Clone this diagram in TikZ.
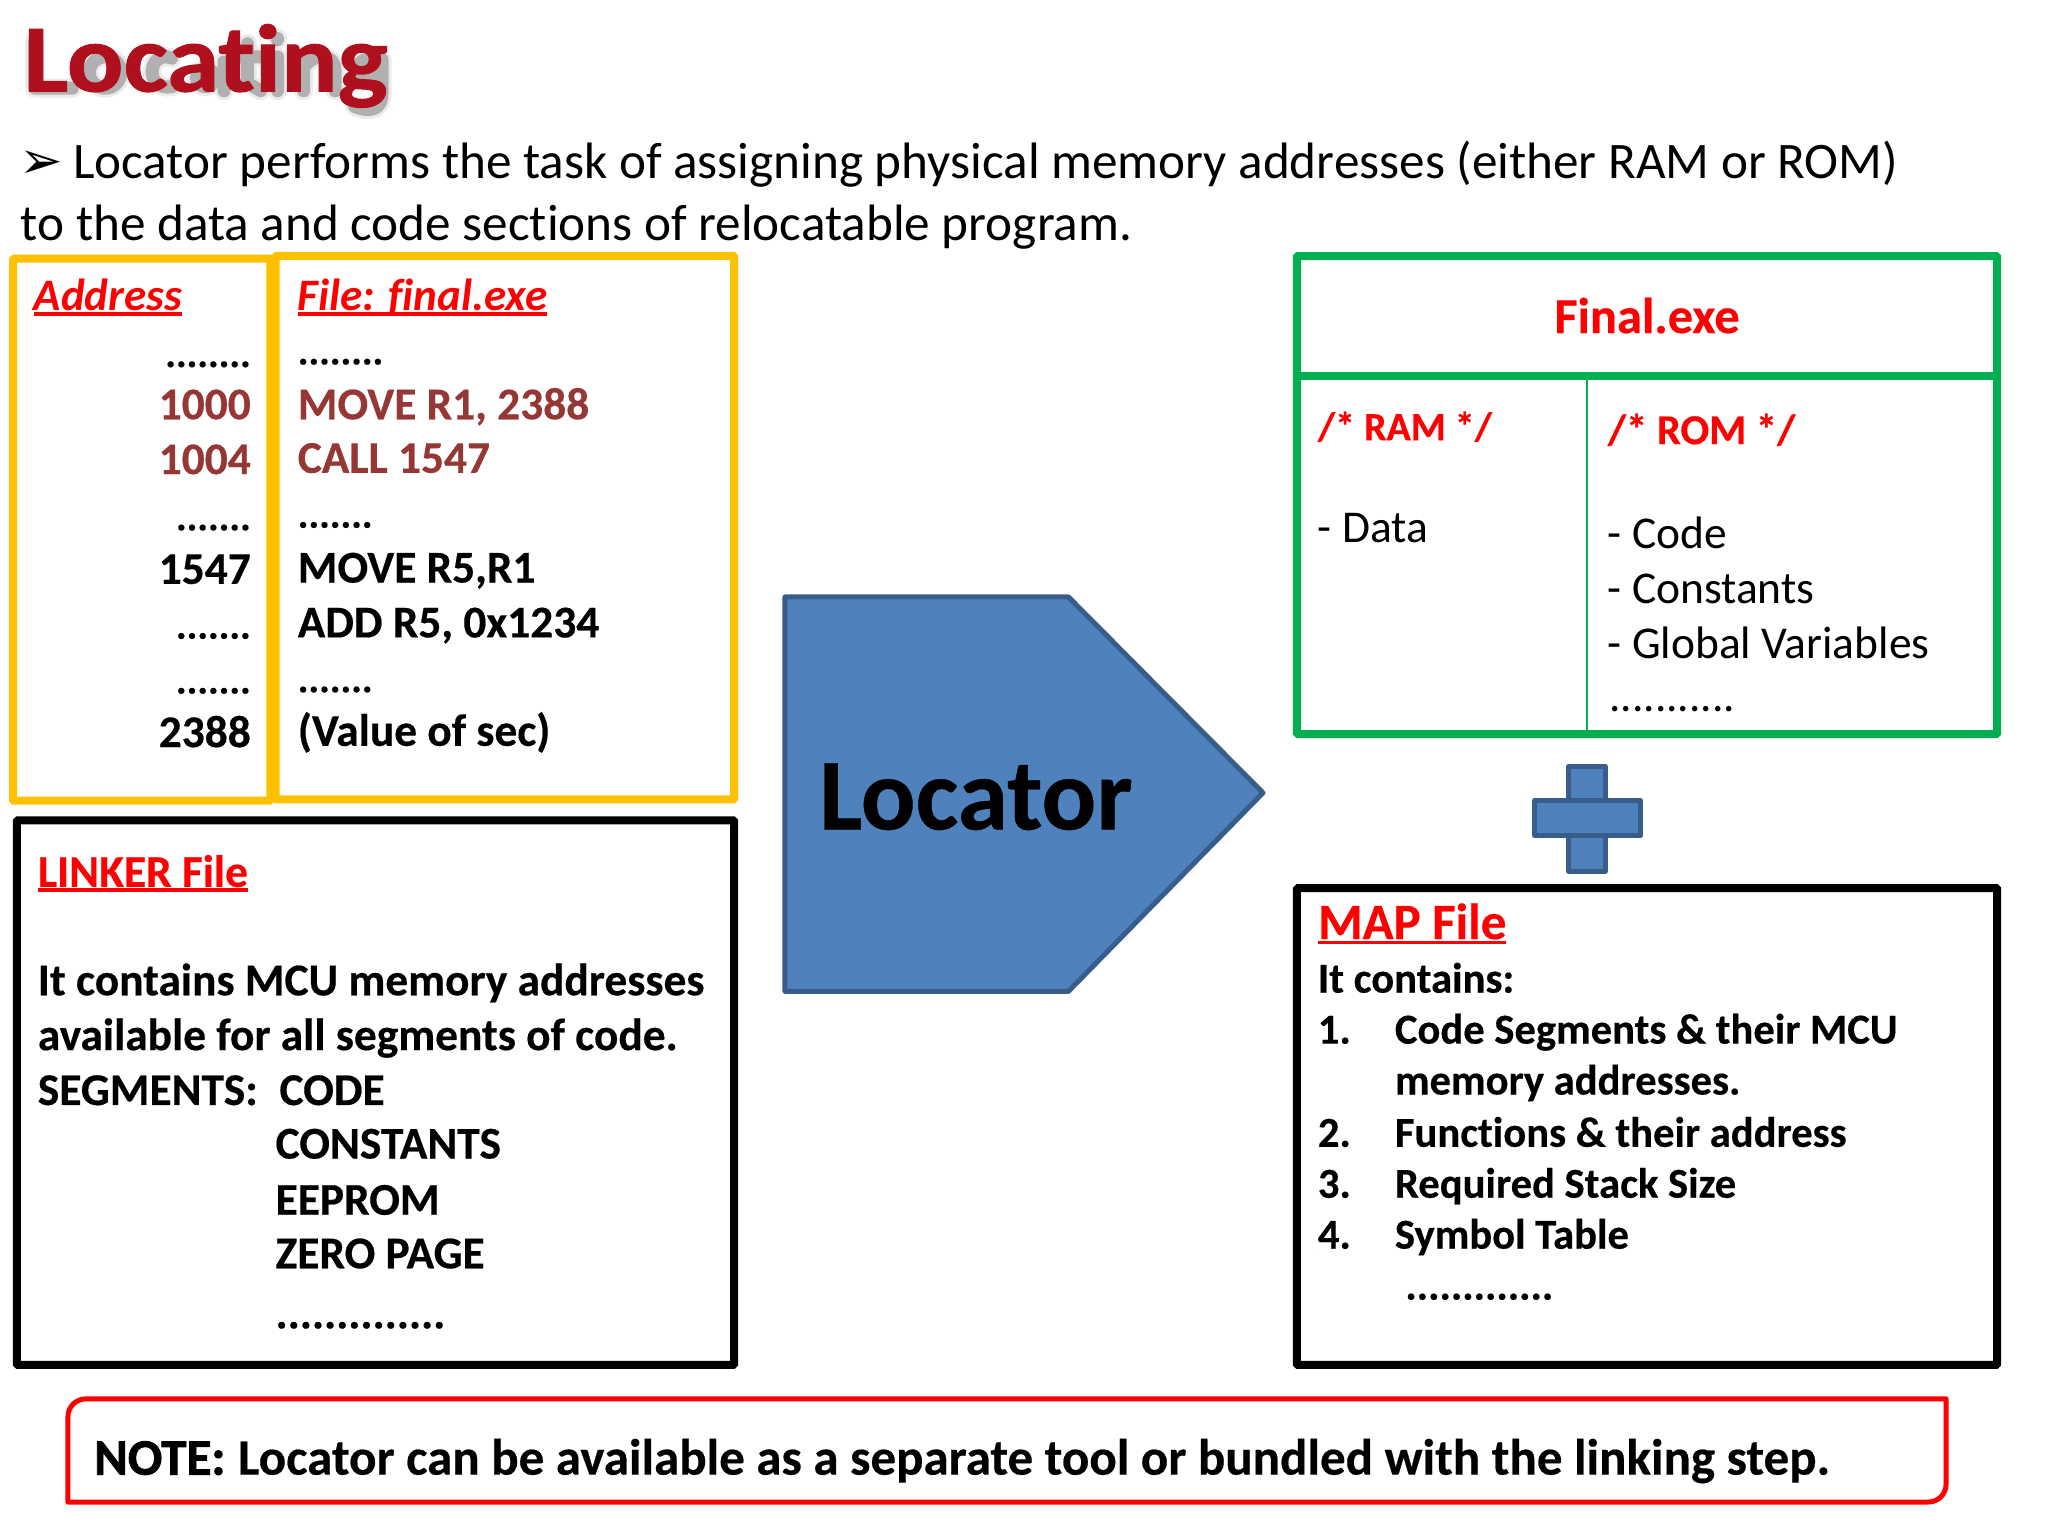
\documentclass[tikz,border=0pt]{standalone}
\usepackage{fontspec}
\setmainfont{Carlito}[Ligatures=NoCommon,BoldFeatures={FakeBold=0.4}]
\newfontfamily\symfont{DejaVu Sans}
\newfontfamily\titlefont{Carlito}[Ligatures=NoCommon,FakeStretch=1.1,BoldFeatures={FakeBold=1}]
\newfontfamily\notefont{Carlito}[BoldFeatures={FakeBold=1.6}]
\definecolor{ylw}{HTML}{FFC000}
\definecolor{grn}{HTML}{00B050}
\definecolor{brn}{HTML}{953735}
\definecolor{blu}{HTML}{4F81BD}
\definecolor{bluedge}{HTML}{385D8A}
\definecolor{ttl}{HTML}{B0101E}
\newcommand{\fs}[1]{\fontsize{#1}{#1}\selectfont}
\newcommand{\ul}[1]{\leavevmode\setbox0\hbox{#1}\rlap{\rule[-5pt]{\wd0}{3.5pt}}\box0}
\tikzset{
  txt/.style={anchor=base west,inner sep=0pt,outer sep=0pt,font=\fs{51.2}},
  bt/.style={anchor=base west,inner sep=0pt,outer sep=0pt,font=\fs{45.4}\bfseries},
  mt/.style={anchor=base west,inner sep=0pt,outer sep=0pt,font=\fs{42.6}\bfseries},
  br/.style={bt,anchor=base east},
  dotsl/.style={bt,font=\fs{40}\bfseries},
  dotsr/.style={br,font=\fs{40}\bfseries},
  reg/.style={anchor=base west,inner sep=0pt,outer sep=0pt,font=\fs{45.5}},
  redt/.style={text=red},
  brnt/.style={text=brn},
  ybox/.style={draw=ylw,line width=8pt,fill=none,rounded corners=1pt},
  gbox/.style={draw=grn,line width=8pt,rounded corners=1pt},
  kbox/.style={draw=black,line width=8pt,rounded corners=1pt},
  blueshape/.style={fill=blu,draw=bluedge,line width=5pt,line join=round},
  glyphshadow/.style={draw=black,line cap=round,line join=round,fill=none},
}
\begin{document}
\begin{tikzpicture}[x=1.306pt,y=-1.306pt]
\useasboundingbox (0,0) rectangle (1568,1176);
% title: soft shadow drawn as strokes behind the word
\foreach \w/\o in {19pt/0.08,13pt/0.25}{
  \draw[glyphshadow,line width=\w,opacity=\o,shift={(1.5,3.5)}]
    (25,28) -- (25,64) -- (54,64)
    (79,52) circle[radius=12]
    (130,41) .. controls (112,34) and (108,66) .. (130,63)
    (156,56) circle[radius=7] (170,44) -- (170,66)
    (188,30) -- (188,60) -- (198,66) (178,40) -- (200,40)
    (211,40) -- (211,66) (211,26) -- (211,27)
    (231,40) -- (231,66) (231,48) .. controls (240,36) and (255,38) .. (255,50) -- (255,66)
    (280,50) circle[radius=8] (270,78) .. controls (285,84) and (291,78) .. (291,68) -- (291,42);
}
\node[anchor=base west,inner sep=0pt,text=ttl,font=\titlefont\fs{96}\bfseries] (title) at (18,70) {Locating};
% intro
\node[anchor=base west,inner sep=0pt,font=\symfont\fs{52}] (bullet) at (15,137) {➢};
\node[txt] (intro1) at (56,137) {Locator performs the task of assigning physical memory addresses (either RAM or ROM)};
\node[txt] (intro2) at (16,184) {to the data and code sections of relocatable program.};
% yellow boxes
\draw[ybox] (10,198) rectangle (207,613);
\draw[ybox] (211,196) rectangle (562,612);
\node[bt,redt,font=\fs{45}\bfseries\itshape] (addr) at (26,238) {\ul{Address}};
\node[dotsr] (a0) at (192,281) {........};
\node[br,brnt] (a1) at (192,321) {1000};
\node[br,brnt] (a2) at (192,363) {1004};
\node[dotsr] (a3) at (192,406) {.......};
\node[br] (a4) at (192,447) {1547};
\node[dotsr] (a5) at (192,489) {.......};
\node[dotsr] (a6) at (192,531) {.......};
\node[br] (a7) at (192,572) {2388};
\node[bt,redt,font=\fs{45}\bfseries\itshape] (file) at (228,238) {\ul{File: final.exe}};
\node[dotsl] (f0) at (228,279) {........};
\node[bt,brnt] (f1) at (228,321) {MOVE R1, 2388};
\node[bt,brnt] (f2) at (228,362) {CALL 1547};
\node[dotsl] (f3) at (228,404) {.......};
\node[bt] (f4) at (228,446) {MOVE R5,R1};
\node[bt] (f5) at (228,488) {ADD R5, 0x1234};
\node[dotsl] (f6) at (228,530) {.......};
\node[bt] (f7) at (228,571) {(Value of sec)};
% linker
\draw[kbox] (13,628) rectangle (562,1045);
\node[bt,redt] (lk) at (29,679) {\ul{LINKER File}};
\node[bt] (lk1) at (29,762) {It contains MCU memory addresses};
\node[bt] (lk2) at (29,804) {available for all segments of code.};
\node[bt] (lk3) at (29,846) {SEGMENTS:};
\node[bt] (lk3b) at (214,846) {CODE};
\node[bt] (lk4) at (211,887) {CONSTANTS};
\node[bt] (lk5) at (211,930) {EEPROM};
\node[bt] (lk6) at (211,971) {ZERO PAGE};
\node[bt] (lk7) at (211,1017) {..............};
% locator
\draw[blueshape] (601,457) -- (818,457) -- (967,607) -- (818,759) -- (601,759) -- cycle;
\node[anchor=base west,inner sep=0pt,font=\fs{102}\bfseries] (loc) at (627,635) {Locator};
% final
\draw[gbox] (993,196) rectangle (1529,562);
\draw[grn,line width=8pt] (993,288) -- (1529,288);
\draw[grn,line width=2.5pt] (1215,288) -- (1215,562);
\node[anchor=base,inner sep=0pt,font=\fs{50.4}\bfseries,text=red] (fe) at (1261,255) {Final.exe};
\node[bt,redt,font=\fs{40}\bfseries] (ram) at (1009,337) {/* RAM */};
\node[bt,redt,font=\fs{42.5}\bfseries] (rom) at (1231,340) {/* ROM */};
\node[reg] (d1) at (1009,415) {- Data};
\node[reg] (c1) at (1231,420) {- Code};
\node[reg] (c2) at (1231,462) {- Constants};
\node[reg] (c3) at (1231,504) {- Global Variables};
\node[reg] (c4) at (1232,545) {...........};
% plus
\draw[blueshape] (1201,587) rectangle (1229,667);
\draw[blueshape] (1175,613) rectangle (1256,640);
% map
\draw[kbox] (993,680) rectangle (1529,1045);
\node[anchor=base west,inner sep=0pt,font=\fs{51}\bfseries,text=red] (mp) at (1009,719) {\ul{MAP File}};
\node[mt] (m0) at (1009,760) {It contains:};
\node[mt] (m1n) at (1009,799) {1.};
\node[mt] (m1) at (1068,799) {Code Segments \& their MCU};
\node[mt] (m1b) at (1068,838) {memory addresses.};
\node[mt] (m2n) at (1009,878) {2.};
\node[mt] (m2) at (1068,878) {Functions \& their address};
\node[mt] (m3n) at (1009,917) {3.};
\node[mt] (m3) at (1068,917) {Required Stack Size};
\node[mt] (m4n) at (1009,956) {4.};
\node[mt] (m4) at (1068,956) {Symbol Table};
\node[mt] (m5) at (1076,995) {.............};
% note
\draw[red,line width=5pt,line join=round] (66,1071) -- (1490,1071) -- (1490,1136) .. controls (1490,1144) and (1484,1150) .. (1476,1150) -- (52,1150) -- (52,1085) .. controls (52,1077) and (58,1071) .. (66,1071) -- cycle;
\node[anchor=base west,inner sep=0pt,font=\notefont\fs{51}\bfseries] (n0) at (72,1129) {NOTE:};
\node[anchor=base west,inner sep=0pt,font=\fs{51}\bfseries] (n1) at (182,1129) {Locator can be available as a separate tool or bundled with the linking step.};
\end{tikzpicture}
\end{document}
